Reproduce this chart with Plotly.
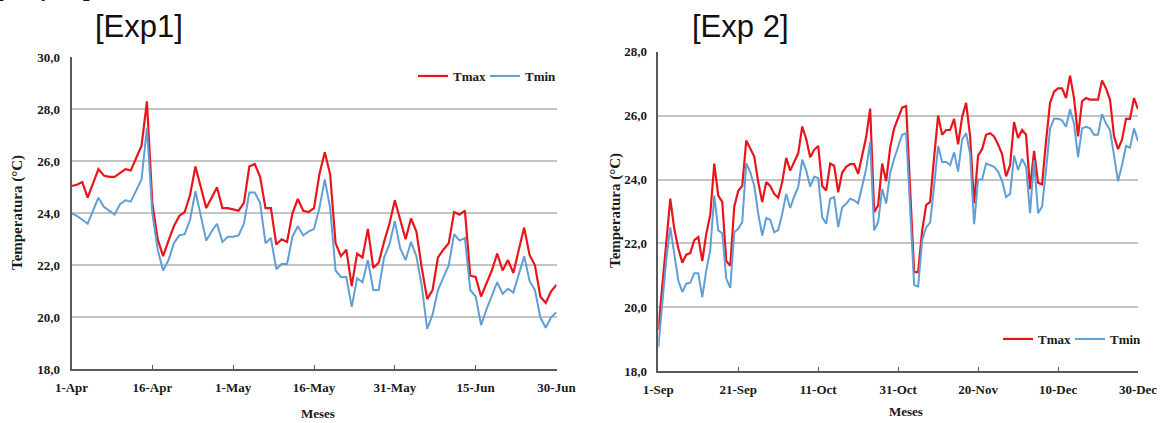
import pandas as pd
import plotly.graph_objects as go

# ---------------- data ----------------
exp1_start = "2015-04-01"
exp1_tmax = [25.05, 25.1, 25.2, 24.6, 25.15, 25.7, 25.45, 25.4, 25.4, 25.55,
             25.7, 25.65, 26.1, 26.6, 28.3, 24.4, 23.0, 22.35, 22.95, 23.5,
             23.9, 24.05, 24.7, 25.8, 25.0, 24.2, 24.6, 25.0, 24.2, 24.2,
             24.15, 24.1, 24.4, 25.8, 25.9, 25.4, 24.2, 24.2, 22.8, 23.0,
             22.9, 24.0, 24.55, 24.1, 24.05, 24.2, 25.5, 26.35, 25.5, 22.85,
             22.35, 22.6, 21.2, 22.45, 22.3, 23.4, 21.9, 22.1, 22.9, 23.6,
             24.5, 23.75, 23.0, 23.8, 23.3, 21.9, 20.7, 21.05, 22.3, 22.6,
             22.85, 24.05, 23.95, 24.1, 21.6, 21.55, 20.8, 21.3, 21.8, 22.45,
             21.8, 22.2, 21.7, 22.6, 23.45, 22.4, 22.0, 20.8, 20.55, 21.0,
             21.25]
exp1_tmin = [24.0, 23.9, 23.75, 23.6, 24.1, 24.6, 24.25, 24.1, 23.95, 24.35,
             24.5, 24.45, 24.85, 25.3, 27.3, 24.0, 22.6, 21.8, 22.2, 22.85,
             23.15, 23.2, 23.75, 24.85, 23.9, 22.95, 23.3, 23.6, 22.9, 23.1,
             23.1, 23.15, 23.6, 24.8, 24.8, 24.4, 22.85, 23.05, 21.85, 22.05,
             22.05, 23.1, 23.5, 23.15, 23.3, 23.4, 24.2, 25.3, 24.2, 21.8,
             21.55, 21.55, 20.4, 21.5, 21.35, 22.2, 21.05, 21.05, 22.3, 22.8,
             23.7, 22.65, 22.2, 22.9, 22.35, 21.2, 19.55, 20.1, 21.05, 21.5,
             22.0, 23.2, 22.95, 23.05, 21.05, 20.8, 19.7, 20.3, 20.8, 21.35,
             20.9, 21.1, 20.95, 21.65, 22.35, 21.4, 21.05, 20.0, 19.6, 20.0,
             20.2]
exp1_tick_labels = ["1-Apr", "16-Apr", "1-May", "16-May", "31-May", "15-Jun", "30-Jun"]
exp1_tick_step = 15
exp1_y_range = [18, 30]

exp2_start = "2015-09-01"
exp2_tmax = [19.3, 20.6, 22.0, 23.4, 22.45, 21.85, 21.4, 21.65, 21.7, 22.1,
             22.2, 21.45, 22.3, 22.9, 24.5, 23.5, 23.3, 21.45, 21.3, 23.15,
             23.65, 23.8, 25.22, 24.95, 24.72, 23.92, 23.3, 23.92, 23.8, 23.55,
             23.43, 23.92, 24.68, 24.28, 24.58, 24.82, 25.66, 25.27, 24.7, 24.93,
             25.05, 23.8, 23.66, 24.5, 24.43, 23.6, 24.22, 24.4, 24.48, 24.48,
             24.18, 24.8, 25.33, 26.22, 22.98, 23.2, 24.5, 23.95, 25.0, 25.6,
             25.9, 26.25, 26.3, 23.7, 21.1, 21.1, 22.4, 23.2, 23.3, 24.7,
             26.0, 25.4, 25.55, 25.55, 25.9, 25.1, 25.95, 26.4, 25.35, 23.25,
             24.75, 24.95, 25.4, 25.45, 25.35, 25.1, 24.8, 24.1, 24.45, 25.8,
             25.3, 25.55, 25.4, 23.7, 24.9, 23.9, 23.85, 25.2, 26.4, 26.75,
             26.85, 26.85, 26.55, 27.25, 26.55, 25.35, 26.45, 26.55, 26.5, 26.5,
             26.5, 27.1, 26.85, 26.5, 25.35, 24.95, 25.25, 25.9, 25.9, 26.55,
             26.2]
exp2_tmin = [18.75, 20.2, 21.5, 22.5, 21.6, 20.85, 20.48, 20.74, 20.77, 21.07,
             21.07, 20.32, 21.16, 21.8, 23.5, 22.41, 22.32, 20.9, 20.61, 22.35,
             22.46, 22.67, 24.51, 24.23, 23.81, 22.93, 22.25, 22.8, 22.74, 22.35,
             22.42, 22.93, 23.55, 23.11, 23.47, 23.76, 24.62, 24.28, 23.78, 24.09,
             24.05, 22.82, 22.62, 23.4, 23.45, 22.51, 23.13, 23.24, 23.4, 23.35,
             23.26, 23.75, 24.33, 25.17, 22.41, 22.67, 23.7, 23.25, 24.2, 24.65,
             25.0, 25.4, 25.45, 23.0, 20.7, 20.65, 22.1, 22.5, 22.65, 23.8,
             25.05, 24.55, 24.55, 24.45, 24.85, 24.25, 25.25, 25.45, 24.8, 22.6,
             24.0, 24.0, 24.5, 24.45, 24.4, 24.25, 23.95, 23.45, 23.55, 24.75,
             24.3, 24.65, 24.4, 22.95, 24.6, 22.95, 23.15, 24.3, 25.6, 25.9,
             25.9, 25.85, 25.65, 26.2, 25.75, 24.7, 25.6, 25.65, 25.6, 25.4,
             25.4, 26.05, 25.75, 25.55, 24.8, 23.95, 24.45, 25.05, 25.0, 25.6,
             25.2]
exp2_tick_labels = ["1-Sep", "21-Sep", "11-Oct", "31-Oct", "20-Nov", "10-Dec", "30-Dec"]
exp2_tick_step = 20
exp2_y_range = [18, 28]

series_names = ["Tmax", "Tmin"]
panel_titles = ["[Exp1]", "[Exp 2]"]
y_title = "Temperatura (°C)"
x_title = "Meses"

# ---------------- styling ----------------
W, H = 1160, 423
RED = "#e8161c"
BLUE = "#5f9fd6"
AXIS = "#595959"
GRID = "#c4c4c4"
SERIF = "Liberation Serif"
SANS = "Liberation Sans"


def fx(px):
    return px / W


def fy(py):
    return 1 - py / H


exp1_dates = pd.date_range(exp1_start, periods=len(exp1_tmax), freq="D")
exp2_dates = pd.date_range(exp2_start, periods=len(exp2_tmax), freq="D")

fig = go.Figure()
fig.add_trace(go.Scatter(x=exp1_dates, y=exp1_tmax, name=series_names[0], mode="lines",
                         line=dict(color=RED, width=2.2), xaxis="x", yaxis="y", legend="legend"))
fig.add_trace(go.Scatter(x=exp1_dates, y=exp1_tmin, name=series_names[1], mode="lines",
                         line=dict(color=BLUE, width=2.0), xaxis="x", yaxis="y", legend="legend"))
fig.add_trace(go.Scatter(x=exp2_dates, y=exp2_tmax, name=series_names[0], mode="lines",
                         line=dict(color=RED, width=2.2), xaxis="x2", yaxis="y2", legend="legend2"))
fig.add_trace(go.Scatter(x=exp2_dates, y=exp2_tmin, name=series_names[1], mode="lines",
                         line=dict(color=BLUE, width=2.0), xaxis="x2", yaxis="y2", legend="legend2"))

tickfont = dict(family=SERIF, size=13, color="#1a1a1a", weight="bold")
legfont = dict(family=SERIF, size=13, color="#1a1a1a", weight="bold")


def xaxis_style(domain, dates, step, labels, anchor):
    return dict(domain=domain, anchor=anchor, type="date",
                range=[dates[0], dates[-1]],
                tickmode="array", tickvals=list(dates[::step]), ticktext=labels,
                showline=True, linecolor=AXIS, linewidth=1.6,
                ticks="inside", ticklen=5, tickwidth=1.4, tickcolor=AXIS,
                showgrid=False, zeroline=False, tickfont=tickfont,
                ticklabelstandoff=5, automargin=False)


def yaxis_style(domain, yr, anchor):
    return dict(domain=domain, anchor=anchor, range=yr, dtick=2, tick0=18,
                tickformat=".1f", showgrid=True, gridcolor=GRID, gridwidth=1.6,
                showline=True, linecolor=AXIS, linewidth=1.6, ticks="",
                zeroline=False, tickfont=tickfont, ticklabelstandoff=7,
                automargin=False)


fig.update_layout(
    width=W, height=H, autosize=False,
    margin=dict(l=0, r=0, t=0, b=0),
    paper_bgcolor="white", plot_bgcolor="white",
    separators=",.",
    showlegend=True,
    xaxis=xaxis_style([fx(71.5), fx(556.5)], exp1_dates, exp1_tick_step, exp1_tick_labels, "y"),
    yaxis=yaxis_style([fy(369.3), fy(57.3)], exp1_y_range, "x"),
    xaxis2=xaxis_style([fx(658.3), fx(1138)], exp2_dates, exp2_tick_step, exp2_tick_labels, "y2"),
    yaxis2=yaxis_style([fy(371.3), fy(51.7)], exp2_y_range, "x2"),
    legend=dict(orientation="h", x=fx(413), xanchor="left", y=fy(61), yanchor="top",
                font=legfont, bgcolor="rgba(0,0,0,0)", borderwidth=0,
                itemwidth=30, entrywidth=27),
    legend2=dict(orientation="h", x=fx(998), xanchor="left", y=fy(324), yanchor="top",
                 font=legfont, bgcolor="rgba(0,0,0,0)", borderwidth=0,
                 itemwidth=30, entrywidth=27),
)

ann = []
# panel titles
ann.append(dict(text=panel_titles[0], x=fx(139), y=fy(27), xanchor="center", yanchor="middle",
                font=dict(family=SANS, size=31, color="#111111")))
ann.append(dict(text=panel_titles[1], x=fx(740), y=fy(27), xanchor="center", yanchor="middle",
                font=dict(family=SANS, size=31, color="#111111")))
# caption cut off at the very top-left edge of the picture
ann.append(dict(text="[Exp 1]", x=fx(-7), y=fy(-16.5), xanchor="left", yanchor="middle",
                font=dict(family=SANS, size=31, color="#111111")))
# axis titles
for xc, yc in [(18, 213), (616, 211)]:
    ann.append(dict(text=y_title, x=fx(xc), y=fy(yc), textangle=-90, xanchor="center",
                    yanchor="middle", font=dict(family=SERIF, size=15, color="#1a1a1a", weight="bold")))
for xc, yc in [(318, 413), (906, 411)]:
    ann.append(dict(text=x_title, x=fx(xc), y=fy(yc), xanchor="center", yanchor="middle",
                    font=dict(family=SERIF, size=13, color="#1a1a1a", weight="bold")))
for a in ann:
    a.update(xref="paper", yref="paper", showarrow=False)
fig.update_layout(annotations=ann)

fig.write_html("out.html", config={"displayModeBar": False},
               post_script="document.body.style.margin='0px';")
